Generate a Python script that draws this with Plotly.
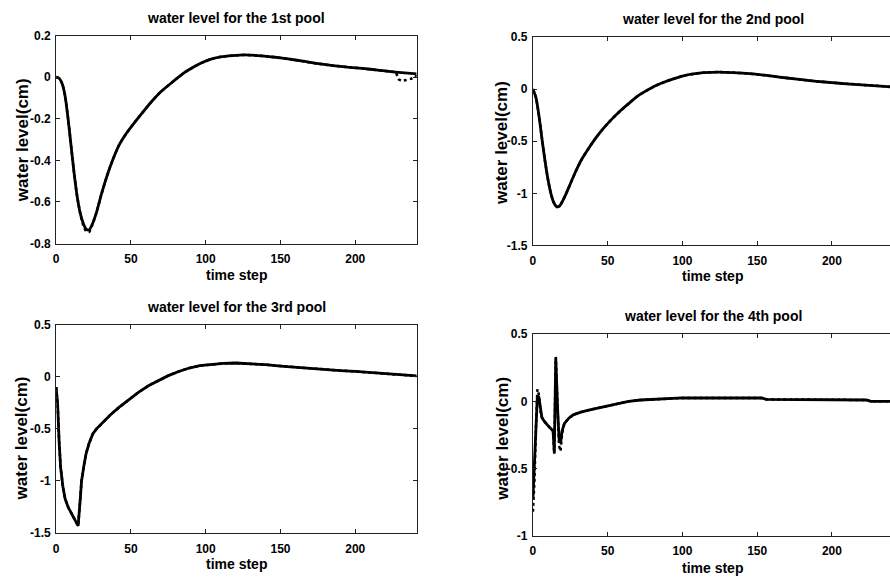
import plotly.graph_objects as go

W, H = 890, 586

# ---------------- data ----------------
# Pool 1
t1 = [0, 2, 4, 6, 8, 10, 12, 14, 16, 18, 20, 22, 24, 27, 30, 34, 38, 42, 47, 52, 58, 64, 70, 78, 85, 91, 97,
      103, 110, 118, 126, 135, 145, 155, 165, 175, 185, 195, 205, 215, 225, 233, 241]
v1 = [0.0, -0.005, -0.03, -0.09, -0.2, -0.33, -0.46, -0.57, -0.65, -0.70, -0.73, -0.735, -0.71, -0.65, -0.57,
      -0.475, -0.395, -0.328, -0.27, -0.222, -0.168, -0.116, -0.07, -0.022, 0.018, 0.045, 0.068,
      0.086, 0.098, 0.104, 0.107, 0.104, 0.097, 0.088, 0.077, 0.065, 0.056, 0.048, 0.042, 0.034, 0.026, 0.021, 0.016]
t1_ref = [0, 2, 4, 6, 8, 10, 12, 14, 16, 18, 20, 22, 24, 27, 30, 34, 38, 42, 47, 52, 58, 64, 70, 78, 85, 91, 97,
          103, 110, 118, 126, 135, 145, 155, 165, 175, 185, 195, 205, 215, 225, 227, 229, 231, 234, 237, 240, 241]
v1_ref = [0.0, -0.005, -0.03, -0.09, -0.2, -0.33, -0.46, -0.57, -0.65, -0.71, -0.74, -0.745, -0.715, -0.65, -0.57,
          -0.475, -0.395, -0.328, -0.27, -0.222, -0.168, -0.116, -0.07, -0.022, 0.018, 0.045, 0.068,
          0.086, 0.098, 0.104, 0.107, 0.104, 0.097, 0.088, 0.077, 0.065, 0.056, 0.048, 0.042, 0.034, 0.026,
          0.024, -0.01, -0.016, -0.014, -0.008, 0.0, 0.012]

# Pool 2
t2 = [0, 2, 4, 6, 8, 10, 12, 14, 16, 18, 20, 22, 25, 28, 32, 37, 42, 47, 52, 58, 64, 70, 76, 82, 88, 94, 100,
      106, 114, 124, 134, 145, 155, 165, 175, 185, 195, 205, 215, 225, 235, 241]
v2 = [0.0, -0.08, -0.25, -0.47, -0.68, -0.86, -1.0, -1.09, -1.13, -1.12, -1.07, -1.01, -0.91, -0.81, -0.69,
      -0.575, -0.47, -0.38, -0.30, -0.215, -0.14, -0.068, -0.015, 0.032, 0.068, 0.098, 0.125, 0.143, 0.157, 0.163,
      0.158, 0.148, 0.133, 0.115, 0.098, 0.082, 0.068, 0.056, 0.046, 0.036, 0.026, 0.02]

# Pool 3
t3 = [0, 1, 2, 3, 4.5, 6, 8, 10, 12, 14, 14.7, 16, 17, 18.5, 20, 22, 24.5, 27, 31, 36, 42, 48, 55, 62, 69, 75,
      82, 89, 96, 104, 112, 120, 130, 140, 150, 160, 170, 180, 190, 200, 210, 220, 230, 241]
v3 = [-0.10, -0.26, -0.62, -0.87, -1.05, -1.17, -1.25, -1.30, -1.35, -1.41, -1.43, -1.2, -1.0, -0.86, -0.74,
      -0.64, -0.55, -0.50, -0.44, -0.37, -0.295, -0.23, -0.15, -0.085, -0.03, 0.01, 0.05, 0.083, 0.105, 0.12,
      0.128, 0.131, 0.126, 0.115, 0.102, 0.09, 0.078, 0.068, 0.058, 0.05, 0.04, 0.03, 0.018, 0.007]

# Pool 4
t4 = [0, 1, 2, 3, 4, 5, 6, 8, 10, 12, 13.5, 14.3, 15.3, 16.5, 17.5, 18.5, 19.5, 21, 24, 27, 32, 38, 45, 51, 58,
      64, 72, 80, 90, 100, 120, 140, 153, 156, 170, 184, 187, 210, 223, 226, 241]
v4 = [-0.72, -0.45, -0.15, 0.04, 0.03, -0.07, -0.12, -0.155, -0.18, -0.205, -0.22, -0.38, 0.32, -0.05, -0.28,
      -0.31, -0.22, -0.165, -0.125, -0.10, -0.08, -0.063, -0.045, -0.031, -0.015, 0.0, 0.01, 0.015, 0.02,
      0.025, 0.025, 0.025, 0.025, 0.015, 0.015, 0.015, 0.01, 0.01, 0.01, 0.0, 0.0]
v4_ref = [-0.82, -0.6, -0.2, 0.09, 0.05, -0.07, -0.12, -0.155, -0.18, -0.205, -0.22, -0.39, 0.33, -0.05, -0.33,
          -0.37, -0.24, -0.165, -0.125, -0.10, -0.08, -0.063, -0.045, -0.031, -0.015, 0.0, 0.01, 0.015, 0.02,
          0.025, 0.025, 0.025, 0.025, 0.015, 0.015, 0.015, 0.01, 0.01, 0.01, 0.0, 0.0]

titles = ["water level for the 1st pool", "water level for the 2nd pool",
          "water level for the 3rd pool", "water level for the 4th pool"]
x_label = "time step"
y_label = "water level(cm)"

x_tickvals = [0, 50, 100, 150, 200]
x_ticktext = ["0", "50", "100", "150", "200"]
y1_tickvals = [-0.8, -0.6, -0.4, -0.2, 0, 0.2]
y1_ticktext = ["-0.8", "-0.6", "-0.4", "-0.2", "0", "0.2"]
y2_tickvals = [-1.5, -1, -0.5, 0, 0.5]
y2_ticktext = ["-1.5", "-1", "-0.5", "0", "0.5"]
y4_tickvals = [-1, -0.5, 0, 0.5]
y4_ticktext = ["-1", "-0.5", "0", "0.5"]

# ---------------- layout helpers (pixel geometry) ----------------
def px_x(p):
    return p / W

def px_y(p):
    return 1 - p / H

FONT = "Arial, 'Liberation Sans', sans-serif"

# plot boxes in pixels: (left, right, top, bottom), x-range max
boxes = [
    (53.3, 415.0, 29.3, 242.3, 241.0),
    (531.7, 890.0, 30.7, 244.3, (890 - 531.7) / 1.5),
    (53.3, 415.0, 325.3, 539.0, 241.0),
    (531.7, 890.0, 335.0, 542.0, (890 - 531.7) / 1.5),
]
yranges = [[-0.8, 0.2], [-1.5, 0.5], [-1.5, 0.5], [-1.0, 0.5]]
yticks = [(y1_tickvals, y1_ticktext), (y2_tickvals, y2_ticktext),
          (y2_tickvals, y2_ticktext), (y4_tickvals, y4_ticktext)]

fig = go.Figure()

series = [
    (t1, v1, t1_ref, v1_ref, "spline"),
    (t2, v2, t2, v2, "spline"),
    (t3, v3, t3, v3, "linear"),
    (t4, v4, t4, v4_ref, "linear"),
]

for i, (ts, vs, tr, vr, shape) in enumerate(series):
    ax = "" if i == 0 else str(i + 1)
    fig.add_trace(go.Scatter(x=ts, y=vs, mode="lines", xaxis="x" + ax, yaxis="y" + ax,
                             line=dict(color="black", width=2.8, shape=shape, smoothing=0.6),
                             showlegend=False, hoverinfo="skip"))
    fig.add_trace(go.Scatter(x=tr, y=vr, mode="lines", xaxis="x" + ax, yaxis="y" + ax,
                             line=dict(color="black", width=2.5, dash="dot", shape=shape, smoothing=0.6),
                             showlegend=False, hoverinfo="skip"))

layout = dict(width=W, height=H, autosize=False, margin=dict(l=0, r=0, t=0, b=0, pad=0),
              paper_bgcolor="white", plot_bgcolor="white", showlegend=False)

tickfont = dict(family=FONT, size=12, color="black", weight="bold")
for i, (l, r, t, b, xmax) in enumerate(boxes):
    ax = "" if i == 0 else str(i + 1)
    right_col = i % 2 == 1
    layout["xaxis" + ax] = dict(
        domain=[px_x(l), px_x(r)], range=[0, xmax], anchor="y" + ax,
        tickvals=x_tickvals, ticktext=x_ticktext, ticks="inside", ticklen=4, tickwidth=1,
        tickcolor="#222", showline=True, linecolor="#222", linewidth=1, mirror="ticks",
        showgrid=False, zeroline=False, tickfont=tickfont, ticklabelstandoff=4,
        fixedrange=True)
    layout["yaxis" + ax] = dict(
        domain=[px_y(b), px_y(t)], range=yranges[i], anchor="x" + ax,
        tickvals=yticks[i][0], ticktext=yticks[i][1], ticks="inside", ticklen=4, tickwidth=1,
        tickcolor="#222", showline=True, linecolor="#222", linewidth=1,
        mirror=False if right_col else "ticks",
        showgrid=False, zeroline=False, tickfont=tickfont, ticklabelstandoff=2,
        fixedrange=True)

annotations = []
title_pos = [(234, 11.5), (712, 12.5), (234, 307), (712, 316.5)]
xlab_pos = [(234, 274.5), (712, 275.5), (234, 570.5), (712, 574.5)]
ylab_pos = [(19.5, 136), (499.5, 139.5), (19.5, 441.5), (501.5, 442.5)]
for i in range(4):
    annotations.append(dict(text=titles[i], x=px_x(title_pos[i][0]), y=px_y(title_pos[i][1]),
                            xref="paper", yref="paper", xanchor="center", yanchor="middle",
                            showarrow=False, font=dict(family=FONT, size=14, color="black", weight="bold")))
    annotations.append(dict(text=x_label, x=px_x(xlab_pos[i][0]), y=px_y(xlab_pos[i][1]),
                            xref="paper", yref="paper", xanchor="center", yanchor="middle",
                            showarrow=False, font=dict(family=FONT, size=14, color="black", weight="bold")))
    annotations.append(dict(text=y_label, x=px_x(ylab_pos[i][0]), y=px_y(ylab_pos[i][1]),
                            xref="paper", yref="paper", xanchor="center", yanchor="middle",
                            textangle=-90, showarrow=False,
                            font=dict(family=FONT, size=17, color="black", weight="bold")))
layout["annotations"] = annotations

fig.update_layout(**layout)
fig.write_html(
    "out.html", config={"displayModeBar": False},
    post_script=(
        "document.documentElement.style.margin='0';document.documentElement.style.overflow='hidden';"
        "document.body.style.margin='0';document.body.style.padding='0';document.body.style.overflow='hidden';"
        "var gd=document.getElementById('{plot_id}');gd.style.position='absolute';"
        "gd.style.left='0px';gd.style.top='0px';"
    ),
)
